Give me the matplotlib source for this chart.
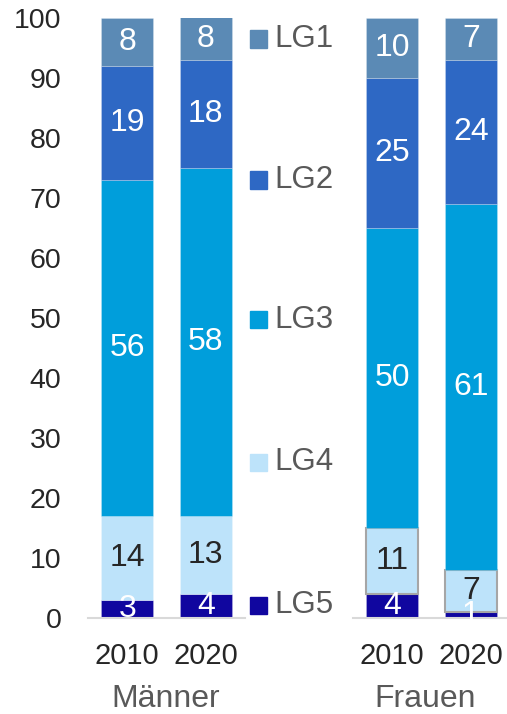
import matplotlib.pyplot as plt
from matplotlib.patches import Rectangle
import numpy as np

plt.rcParams['font.family'] = ['Liberation Sans', 'DejaVu Sans']

years = ['2010', '2020']
groups = ['Männer', 'Frauen']
levels = ['LG5', 'LG4', 'LG3', 'LG2', 'LG1']
colors = ['#10069F', '#BDE3FA', '#009EDB', '#2E68C4', '#5B8AB5']
label_colors = ['white', '#262626', 'white', 'white', 'white']

# Werte von unten (LG5) nach oben (LG1)
maenner = {'LG5': [3, 4], 'LG4': [14, 13], 'LG3': [56, 58], 'LG2': [19, 18], 'LG1': [8, 8]}
frauen = {'LG5': [4, 1], 'LG4': [11, 7], 'LG3': [50, 61], 'LG2': [25, 24], 'LG1': [10, 7]}

fig = plt.figure(figsize=(5.07, 7.14), dpi=100)
ax1 = fig.add_axes([88/507, 96/714, 157/507, 600/714])
ax2 = fig.add_axes([353/507, 96/714, 154/507, 600/714])

x = np.arange(len(years))
for ax, data, name in [(ax1, maenner, groups[0]), (ax2, frauen, groups[1])]:
    bottom = np.zeros(len(years))
    for i, lg in enumerate(levels):
        vals = np.array(data[lg], dtype=float)
        if ax is ax2 and lg == 'LG4':
            bars = ax.bar(x, vals, 0.667, bottom=bottom, color=colors[i],
                          edgecolor='#A6A6A6', linewidth=1.5)
        else:
            bars = ax.bar(x, vals, 0.667, bottom=bottom, color=colors[i],
                          edgecolor='#FFFFFF40', linewidth=0.6)
        txts = ax.bar_label(bars, labels=[str(int(v)) for v in vals], label_type='center',
                            color=label_colors[i], fontsize=23)
        for t in txts:
            t.set_clip_on(True)
        bottom += vals
    ax.set_ylim(0, 100)
    ax.set_xlim(-0.5, 1.5)
    ax.set_xticks(x)
    ax.set_xticklabels(years, fontsize=21, color='#262626')
    ax.tick_params(axis='x', length=0, pad=17)
    for s in ['top', 'right', 'left']:
        ax.spines[s].set_visible(False)
    ax.spines['bottom'].set_color('#D9D9D9')
    ax.spines['bottom'].set_linewidth(1.5)

ax2.set_xlim(-0.5, 1.46)
ax1.set_yticks(np.arange(0, 101, 10))
ax1.tick_params(axis='y', length=0, pad=19, labelsize=20.5, labelcolor='#262626')
ax2.set_yticks([])

fig.text(166/507, 1 - 699/714, groups[0], fontsize=23, color='#595959', ha='center', va='center')
fig.text(425/507, 1 - 699/714, groups[1], fontsize=23, color='#595959', ha='center', va='center')

# Legende in der Mitte
leg_y = [605, 462, 320, 180, 39]
for i, lg in enumerate(levels):
    yc = 1 - leg_y[i]/714
    fig.add_artist(Rectangle((250/507, yc - 8.5/714), 17/507, 17/714,
                             transform=fig.transFigure, color=colors[i]))
    fig.text(274/507, yc, lg, fontsize=22.5, color='#595959', ha='left', va='center')

fig.savefig('out.png', dpi=100)
